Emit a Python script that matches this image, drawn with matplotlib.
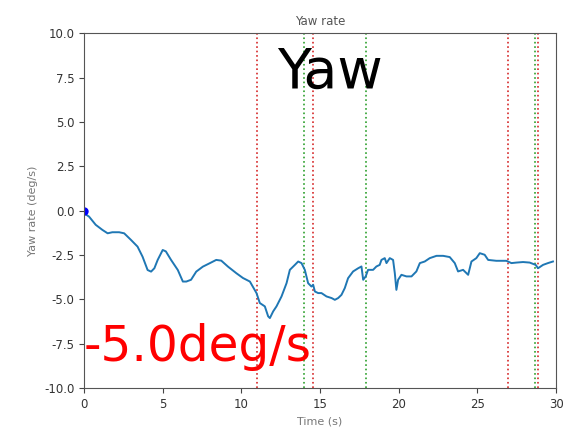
import numpy as np
import matplotlib.pyplot as plt

# yaw rate trace
time_s = [0.0, 0.32, 0.74, 1.17, 1.5, 1.8, 2.23, 2.55, 2.98, 3.4, 3.72, 4.04, 4.26, 4.47,
          4.68, 5.0, 5.2, 5.53, 5.96, 6.28, 6.5, 6.8, 7.13, 7.55, 7.98, 8.4, 8.72, 9.15,
          9.68, 10.1, 10.54, 10.96, 11.17, 11.49, 11.7, 11.81, 12.02, 12.23, 12.55, 12.87,
          13.08, 13.4, 13.61, 13.82, 14.03, 14.24, 14.45, 14.56, 14.67, 14.88, 15.09, 15.41,
          15.73, 15.94, 16.15, 16.36, 16.57, 16.78, 17.1, 17.42, 17.63, 17.74, 17.9, 18.05,
          18.37, 18.58, 18.79, 18.9, 19.11, 19.22, 19.43, 19.64, 19.75, 19.85, 19.96, 20.17,
          20.49, 20.81, 21.12, 21.34, 21.65, 21.97, 22.4, 22.82, 23.24, 23.56, 23.77, 24.09,
          24.41, 24.62, 24.93, 25.15, 25.46, 25.68, 26.2, 26.84, 27.16, 27.48, 27.9, 28.32,
          28.7, 28.85, 29.17, 29.48, 29.8]
yaw_rate = [-0.15, -0.34, -0.8, -1.09, -1.28, -1.22, -1.22, -1.28, -1.65, -2.03, -2.6, -3.35,
            -3.44, -3.25, -2.78, -2.22, -2.3, -2.78, -3.35, -4.0, -4.0, -3.9, -3.44, -3.16,
            -2.97, -2.78, -2.82, -3.16, -3.53, -3.8, -4.0, -4.65, -5.21, -5.4, -5.96, -6.06,
            -5.68, -5.4, -4.84, -4.09, -3.34, -3.06, -2.87, -2.96, -3.34, -4.09, -4.28, -4.18,
            -4.56, -4.65, -4.65, -4.84, -4.93, -5.03, -4.93, -4.75, -4.37, -3.81, -3.43, -3.25,
            -3.15, -3.9, -3.71, -3.34, -3.34, -3.15, -3.06, -2.78, -2.68, -2.96, -2.68, -2.78,
            -3.53, -4.47, -3.9, -3.62, -3.71, -3.71, -3.43, -2.96, -2.87, -2.68, -2.55, -2.55,
            -2.62, -2.96, -3.43, -3.34, -3.62, -2.87, -2.68, -2.4, -2.49, -2.78, -2.83, -2.83,
            -2.96, -2.93, -2.9, -2.93, -3.06, -3.25, -3.06, -2.96, -2.87]

red_events = [11.0, 14.55, 26.94, 28.87]
green_events = [14.0, 17.9, 28.63]

fig = plt.figure(figsize=(5.64, 4.29), dpi=100)
ax = fig.add_axes([0.149, 0.0956, 0.837, 0.827])

for t in red_events:
    ax.axvline(t, color='#d62728', linestyle=':', linewidth=1.2)
for t in green_events:
    ax.axvline(t, color='#2ca02c', linestyle=':', linewidth=1.2)

ax.plot(time_s, yaw_rate, color='#1f77b4', linewidth=1.4)
ax.plot([0], [0], 'o', color='blue', markersize=5, clip_on=True)

ax.set_xlim(0, 30)
ax.set_ylim(-10, 10)
ax.set_xticks([0, 5, 10, 15, 20, 25, 30])
ax.set_yticks(np.arange(-10, 10.1, 2.5))
ax.yaxis.set_major_formatter(plt.FormatStrFormatter('%.1f'))
ax.tick_params(labelsize=8.5, colors='#444444', labelcolor='#333333')
for s in ax.spines.values():
    s.set_color('#555555')

ax.set_title('Yaw rate', fontsize=8.5, color='#555555')
ax.set_xlabel('Time (s)', fontsize=8, color='#777777')
ax.set_ylabel('Yaw rate (deg/s)', fontsize=8, color='#777777')

fig.text(0.585, 0.83, 'Yaw', fontsize=40, color='black', ha='center', va='center')
fig.text(0.148, 0.192, '-5.0deg/s', fontsize=35, color='red', ha='left', va='center')

fig.savefig('out.png', dpi=100)
